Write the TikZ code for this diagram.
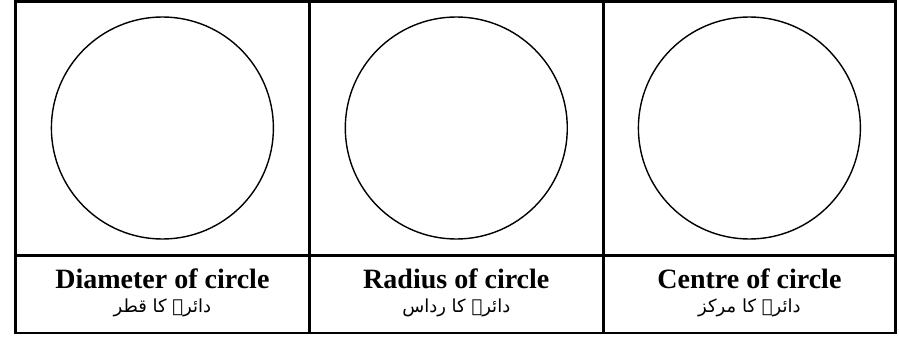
\documentclass[tikz,border=0pt]{standalone}
\usepackage{fontspec}
\setmainfont{Liberation Serif}
\newfontfamily\urdufont[Script=Arabic]{DejaVu Sans}
\TeXXeTstate=1
\usetikzlibrary{positioning}

\begin{document}
\begin{tikzpicture}[
        % ----- global styles -----
        x=1pt, y=-1pt,
        node distance = 9pt,
        % table frame
        frame/.style={draw, line width=2.8pt},
        % circle in each cell
        ring/.style={circle, draw, line width=1.4pt, minimum size=222pt, inner sep=0pt},
        eng/.style={font=\bfseries\fontsize{28}{28}\selectfont, inner sep=0pt},
        urdu/.style={font=\urdufont\fontsize{18}{18}\selectfont, inner sep=0pt}
    ]
    \useasboundingbox (0,0) rectangle (899,337);

    % ----- table lines -----
    \draw[frame] (15.5,1.8) rectangle (895.5,333);
    \coordinate (hl) at (15.5,255.3);
    \coordinate (hr) at (895.5,255.3);
    \coordinate (v1t) at (309.3,1.8);
    \coordinate (v1b) at (309.3,333);
    \coordinate (v2t) at (603.3,1.8);
    \coordinate (v2b) at (603.3,333);
    \draw[frame] (hl) -- (hr);
    \draw[frame] (v1t) -- (v1b);
    \draw[frame] (v2t) -- (v2b);

    % ----- circles -----
    \node[ring] (diam) at (162.4,128) {};
    \node[ring] (rad) at (456.3,128) {};
    \node[ring] (cent) at (749.4,128) {};

    % ----- labels -----
    \node[eng] (diamtxt) at (162.4,279) {Diameter of circle};
    \node[urdu, below=of diamtxt] (diamur) {\beginR دائرے کا قطر\endR};
    \node[eng] (radtxt) at (456.3,279) {Radius of circle};
    \node[urdu, below=of radtxt] (radur) {\beginR دائرے کا رداس\endR};
    \node[eng] (centtxt) at (749.4,279) {Centre of circle};
    \node[urdu, below=of centtxt] (centur) {\beginR دائرے کا مرکز\endR};
\end{tikzpicture}
\end{document}
